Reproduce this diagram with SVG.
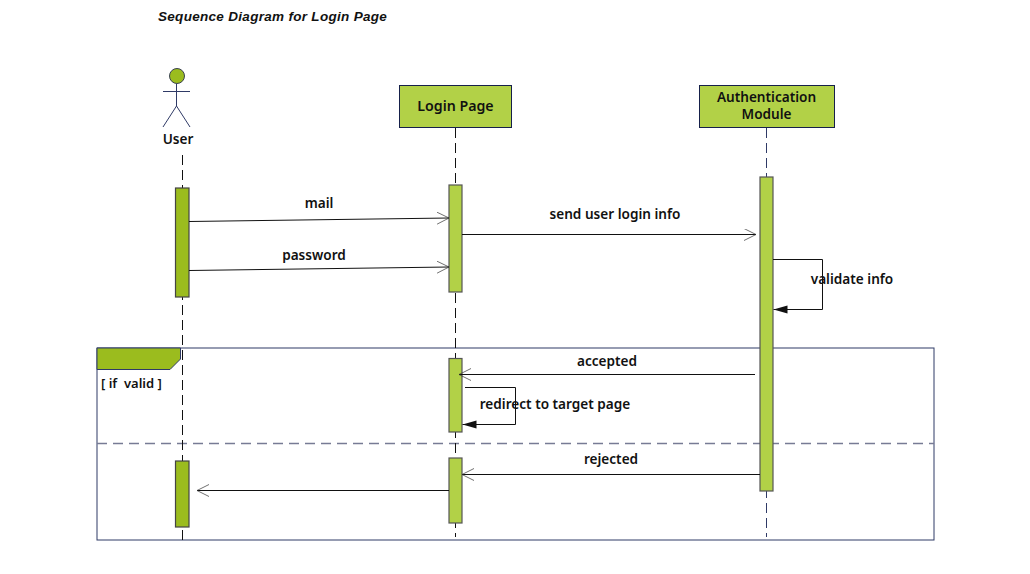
<svg xmlns="http://www.w3.org/2000/svg" width="1030" height="574" viewBox="0 0 1030 574">
<style>
text{font-family:"Noto Sans","Liberation Sans",sans-serif;font-size:13.600px;font-weight:600;fill:#111;text-anchor:middle}
.title{font-family:"Liberation Sans",sans-serif;font-size:13.500px;font-weight:700;font-style:italic;text-anchor:start;letter-spacing:.3px}
.ll{stroke:#111;stroke-width:1;stroke-dasharray:10 5;fill:none}
.box{fill:#b2d147;stroke:#16204a;stroke-width:1}
.act{fill:#b2d147;stroke:#555;stroke-width:1.200}
.act2{fill:#9bbc1e;stroke:#444;stroke-width:1.200}
.msg{stroke:#111;stroke-width:1;fill:none}
.open{marker-end:url(#open)}
.fill{marker-end:url(#filled)}
.fig{stroke:#2f3a66;stroke-width:1;fill:none}
</style>
<defs>
<marker id="open" markerUnits="userSpaceOnUse" markerWidth="14" markerHeight="14" refX="12" refY="6" orient="auto"><path d="M0 0L12 6L0 12" fill="none" stroke="#333" stroke-width="0.700"/></marker>
<marker id="filled" markerUnits="userSpaceOnUse" markerWidth="15" markerHeight="10" refX="14" refY="4" orient="auto"><path d="M0 0L14 4L0 8Z" fill="#111"/></marker>
</defs>
<text class="title" x="158" y="21">Sequence Diagram for Login Page</text>
<g id="frame">
<rect x="97" y="348" width="837" height="192" fill="none" stroke="#2f3a66"/>
<path d="M97 348H180.500V359L170 369.500H97Z" fill="#9bbc1e" stroke="#2f3a66"/>
<line x1="97" y1="443.500" x2="934" y2="443.500" stroke="#777b95" stroke-width="1.400" stroke-dasharray="10 6"/>
<text x="101" y="388" xml:space="preserve" style="font-size:13px;text-anchor:start">[ if  valid ]</text>
</g>
<g id="user">
<circle cx="177" cy="76" r="7.500" fill="#9bbc1e" stroke="#3a4250"/>
<path class="fig" d="M176.500 84V106M163 91.500H190M163 127L176.500 106L190 127"/>
<text x="178" y="143.500">User</text>
<line class="ll" x1="182.500" y1="155" x2="182.500" y2="541"/>
<rect class="act2" x="175.500" y="188" width="13.500" height="109"/>
<rect class="act2" x="175.500" y="461" width="13.500" height="66"/>
</g>
<g id="login-page">
<rect class="box" x="399.500" y="85.500" width="112" height="42"/>
<text x="455.500" y="111" style="font-size:14.200px">Login Page</text>
<line class="ll" x1="455.500" y1="128" x2="455.500" y2="537"/>
<rect class="act" x="449" y="185" width="13" height="107"/>
<rect class="act" x="449" y="358.500" width="13" height="73.500"/>
<rect class="act" x="449" y="458" width="13" height="65"/>
</g>
<g id="auth-module">
<rect class="box" x="699.500" y="85.500" width="135" height="42"/>
<text x="766.500" y="102">Authentication</text>
<text x="766.500" y="119">Module</text>
<line class="ll" x1="766.500" y1="128" x2="766.500" y2="537" style="stroke:#2f3a66"/>
<rect class="act" x="760" y="177" width="13" height="314"/>
</g>
<g id="connectors">
<line class="msg open" x1="189" y1="221.500" x2="449" y2="218"/>
<line class="msg open" x1="189" y1="270.500" x2="449" y2="267"/>
<line class="msg open" x1="462" y1="234.500" x2="756" y2="234.500"/>
<path class="msg fill" d="M773 259.500H822.500V309.500H773.500"/>
<line class="msg open" x1="755" y1="374.500" x2="459" y2="374.500"/>
<path class="msg fill" d="M465 387.500H515.500V424.500H462.500"/>
<line class="msg open" x1="760" y1="474.500" x2="462" y2="474.500"/>
<line class="msg open" x1="449" y1="490.500" x2="197" y2="490.500"/>
</g>
<g id="labels">
<text x="319" y="208">mail</text>
<text x="314" y="260">password</text>
<text x="615" y="219">send user login info</text>
<text x="852" y="284">validate info</text>
<text x="607" y="366">accepted</text>
<text x="555" y="409">redirect to target page</text>
<text x="611" y="464">rejected</text>
</g>
</svg>
